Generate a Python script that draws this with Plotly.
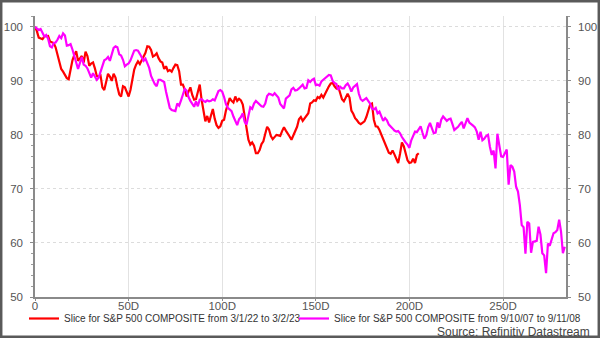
import plotly.graph_objects as go

# S&P 500 composite, rebased to 100 at the start of each slice (trading days)
sp_2022_23 = [
    100.0, 99.2, 98.0, 97.8, 97.7, 98.2, 98.3, 98.3, 97.3, 97.2,
    97.0, 96.2, 95.0, 93.8, 92.2, 91.7, 91.1, 90.5, 90.3, 92.0,
    93.8, 94.8, 95.5, 93.7, 94.2, 94.6, 93.4, 95.4, 94.6, 92.8,
    93.2, 93.4, 92.3, 90.9, 90.8, 91.0, 88.8, 88.3, 89.8, 91.3,
    90.8, 90.0, 91.3, 90.6, 88.9, 87.5, 87.1, 89.0, 88.8, 87.8,
    87.1, 88.3, 90.5, 92.1, 93.0, 93.6, 93.1, 93.8, 94.2, 95.2,
    96.4, 96.3, 95.7, 94.5, 94.7, 95.1, 94.2, 93.6, 93.4, 92.2,
    92.7, 91.8, 92.0, 91.7, 92.4, 93.0, 92.9, 91.8, 89.3, 89.3,
    88.4, 87.1, 88.0, 88.8, 87.4, 86.5, 86.6, 88.0, 89.3, 86.5,
    84.0, 82.5, 83.5, 82.3, 83.6, 84.8, 83.0, 81.8, 81.3, 81.6,
    82.6, 82.8, 84.5, 85.8, 86.8, 86.3, 86.0, 87.1, 86.3, 86.7,
    86.4, 85.6, 83.6, 81.0, 79.1, 78.2, 78.6, 78.0, 76.6, 76.6,
    77.2, 78.3, 78.8, 80.2, 81.5, 81.0, 79.8, 79.2, 79.6, 80.0,
    79.9, 79.8, 80.7, 81.4, 80.8, 80.1, 79.7, 79.1, 79.9, 80.5,
    81.5, 82.9, 83.3, 82.6, 83.0, 83.4, 84.0, 85.8, 86.0, 86.4,
    86.3, 87.0, 86.8, 87.4, 86.9, 87.6, 88.4, 89.0, 89.5, 89.6,
    89.0, 88.6, 88.9, 87.9, 86.6, 86.2, 86.9, 87.6, 86.9, 84.5,
    83.9, 83.1, 82.7, 82.2, 82.0, 82.2, 82.5, 83.3, 84.6, 85.6,
    85.8, 82.8, 81.6, 81.5, 80.9, 80.1, 79.1, 78.5, 77.6, 76.7,
    76.5, 77.1, 76.4, 75.4, 74.8, 76.5, 78.6, 77.9, 76.8, 75.3,
    74.8, 74.9, 75.6, 74.8, 76.3, 76.6,
]

sp_2007_08 = [
    100.0, 99.6, 99.4, 99.6, 98.8, 98.2, 98.5, 97.8, 96.4, 96.2,
    97.0, 97.1, 97.6, 98.3, 97.9, 98.8, 98.4, 96.5, 96.6, 96.8,
    95.8, 94.6, 93.8, 92.2, 93.3, 94.4, 93.0, 92.8, 92.3, 91.4,
    90.6, 91.4, 90.8, 90.2, 90.6, 91.6, 92.6, 93.8, 94.0, 94.4,
    93.7, 95.0, 96.1, 96.4, 96.2, 94.9, 94.7, 93.9, 92.7, 93.0,
    93.2, 93.8, 94.9, 95.6, 95.7, 95.6, 95.0, 94.2, 93.7, 94.1,
    93.4, 92.4, 90.9, 90.0, 89.4, 89.0, 90.2, 90.2, 90.0, 89.8,
    88.0, 86.2, 85.0, 84.6, 84.5, 84.4, 85.8, 85.4, 86.4, 87.6,
    88.5, 88.2, 87.0, 86.3, 85.7, 85.2, 86.2, 85.3, 86.5, 86.6,
    86.3, 86.1, 86.4, 86.2, 86.3, 86.6, 86.4, 87.3, 88.1, 88.3,
    88.0, 87.0, 85.7, 85.0, 84.7, 84.4, 83.4, 82.6, 81.8, 82.9,
    83.3, 84.0, 82.4, 81.9, 83.4, 85.1, 84.8, 85.8, 86.3, 85.9,
    85.6, 85.3, 85.2, 85.8, 87.2, 87.6, 87.5, 87.3, 87.7, 87.3,
    86.9, 85.7, 85.2, 84.9, 86.7, 87.1, 87.3, 88.4, 88.7, 88.2,
    88.3, 88.6, 88.9, 89.3, 88.6, 88.7, 90.1, 89.8, 90.2, 90.4,
    89.2, 89.3, 89.1, 89.9, 90.2, 90.5, 90.9, 91.1, 91.0, 90.0,
    89.6, 89.4, 88.3, 88.9, 88.6, 88.6, 89.2, 89.5, 88.9, 88.0,
    88.8, 89.2, 89.4, 87.6, 86.6, 86.3, 86.5, 86.8, 86.3, 85.8,
    84.9, 84.7, 85.0, 84.0, 84.3, 83.4, 82.6, 83.1, 82.7, 81.9,
    81.6, 81.2, 80.8, 80.6, 80.7, 80.3, 79.6, 79.0, 78.6, 78.2,
    77.6, 79.0, 80.0, 80.6, 80.5, 81.0, 81.6, 80.4, 79.3, 79.9,
    81.4, 82.2, 81.1, 80.3, 80.4, 82.3, 81.3, 82.8, 83.4, 83.0,
    82.6, 82.9, 83.0, 82.0, 80.9, 81.2, 81.5, 82.0, 82.4, 81.2,
    82.1, 83.1, 82.3, 81.9, 81.7, 81.4, 80.6, 79.1, 80.6, 79.0,
    79.3, 79.8, 80.0, 77.8, 76.3, 77.1, 73.8, 80.2, 78.4, 76.0,
    75.9, 76.6, 77.3, 70.8, 74.4, 74.1, 73.2, 70.4, 69.5, 67.0,
    63.3, 62.9, 58.0, 63.9, 63.6, 58.2, 60.2, 60.3, 60.4, 63.0,
    61.6, 58.1, 57.7, 54.4, 59.9, 59.5, 60.6, 61.8, 62.0, 62.4,
    64.3, 62.1, 58.1, 59.3,
]

name_2022 = "Slice for S&P 500 COMPOSITE from 3/1/22 to 3/2/23"
name_2007 = "Slice for S&P 500 COMPOSITE from 9/10/07 to 9/11/08"
x_ticks = [0, 50, 100, 150, 200, 250]
x_tick_text = ["0", "50D", "100D", "150D", "200D", "250D"]
y_ticks = [50, 60, 70, 80, 90, 100]

FONT = "Liberation Sans, Arial, sans-serif"
W, H = 600, 338
ML, MR, MT, MB = 35, 34, 16, 41
PW, PH = W - ML - MR, H - MT - MB


def px_x(p):
    return (p - ML) / PW


def px_y(p):
    return (H - MB - p) / PH


fig = go.Figure()
fig.add_trace(go.Scatter(
    x=list(range(len(sp_2022_23))), y=sp_2022_23, name=name_2022,
    mode="lines", line=dict(color="#ff0000", width=2.2), legend="legend",
))
fig.add_trace(go.Scatter(
    x=list(range(len(sp_2007_08))), y=sp_2007_08, name=name_2007,
    mode="lines", line=dict(color="#ff00ff", width=2.2), legend="legend2",
))
# invisible carrier so the mirrored right-hand axis is drawn
fig.add_trace(go.Scatter(
    x=[0], y=[100], yaxis="y2", mode="lines", showlegend=False,
    hoverinfo="skip", line=dict(color="rgba(0,0,0,0)"),
))

yaxis_common = dict(
    range=[50, 102], tickvals=y_ticks, showline=True, linecolor="#8a8a8a",
    linewidth=1.5, ticks="outside", ticklen=3, tickcolor="#8a8a8a",
    tickfont=dict(family=FONT, size=11.5, color="#555555"),
    minor=dict(dtick=2, ticks="outside", ticklen=2, tickcolor="#9a9a9a"),
    zeroline=False, ticklabelstandoff=5, automargin=False,
)

fig.update_layout(
    width=W, height=H,
    margin=dict(l=ML, r=MR, t=MT, b=MB, autoexpand=False),
    paper_bgcolor="white", plot_bgcolor="white",
    xaxis=dict(
        range=[0, PW / 1.872], tickvals=x_ticks, ticktext=x_tick_text,
        showline=True, linecolor="#8a8a8a", linewidth=1.5,
        ticks="outside", ticklen=2, tickcolor="#8a8a8a",
        showgrid=True, gridcolor="#e2e2e2", gridwidth=1,
        tickfont=dict(family=FONT, size=11.5, color="#555555"),
        zeroline=False, ticklabelstandoff=-5, automargin=False,
    ),
    yaxis=dict(
        side="left", showgrid=True, gridcolor="#dcdcdc", griddash="dot",
        **yaxis_common,
    ),
    yaxis2=dict(
        side="right", overlaying="y", showgrid=False, **yaxis_common,
    ),
    legend=dict(
        orientation="h", x=px_x(24), xanchor="left", y=px_y(318.5),
        yanchor="middle", font=dict(family=FONT, size=10, color="#333333"),
        bgcolor="rgba(0,0,0,0)", borderwidth=0,
    ),
    legend2=dict(
        orientation="h", x=px_x(294), xanchor="left", y=px_y(318.5),
        yanchor="middle", font=dict(family=FONT, size=10, color="#333333"),
        bgcolor="rgba(0,0,0,0)", borderwidth=0,
    ),
    annotations=[dict(
        text="Source: Refinitiv Datastream", xref="paper", yref="paper",
        x=px_x(592), y=px_y(331.5), xanchor="right", yanchor="middle",
        showarrow=False, font=dict(family=FONT, size=12, color="#444444"),
    )],
    shapes=[dict(
        type="rect", xref="paper", yref="paper", layer="above",
        x0=px_x(1.2), x1=px_x(598.8), y0=px_y(336.8), y1=px_y(1.2),
        line=dict(color="#5a5a5a", width=2.5), fillcolor="rgba(0,0,0,0)",
    )],
    showlegend=True,
)

fig.write_html("out.html")
